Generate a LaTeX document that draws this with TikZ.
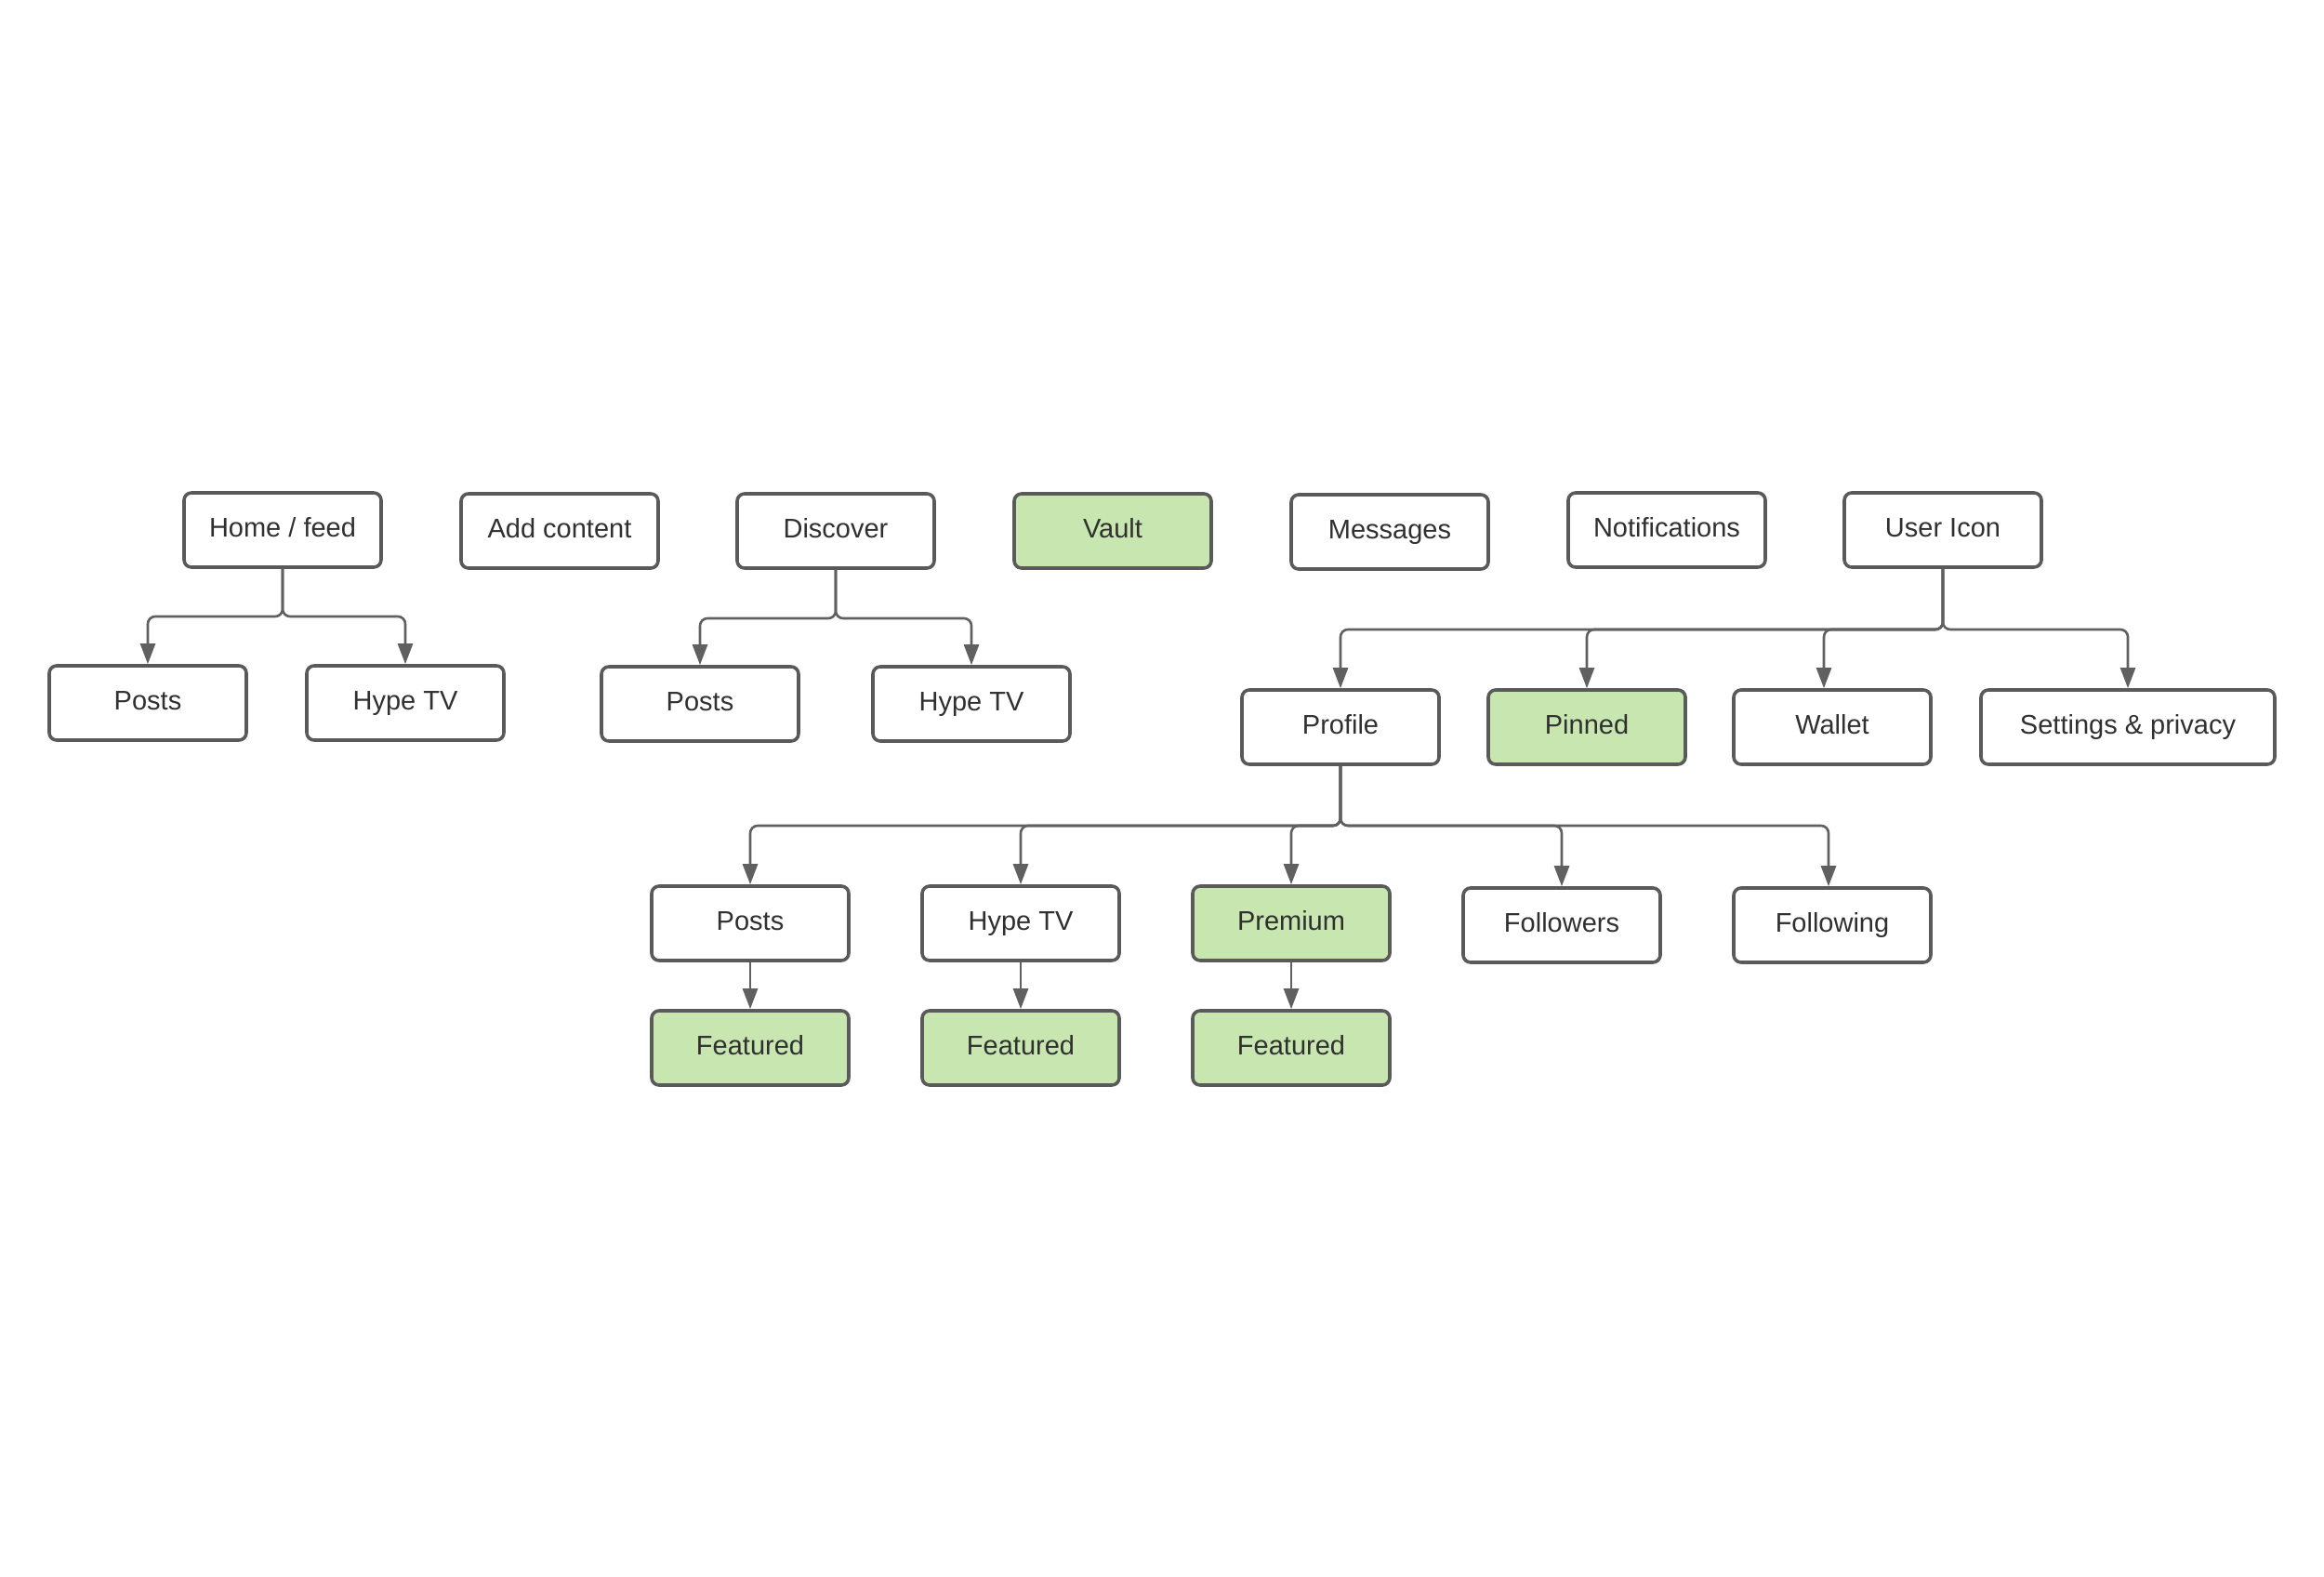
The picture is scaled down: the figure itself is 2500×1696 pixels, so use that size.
\documentclass[tikz,border=0pt]{standalone}
\usepackage{fontspec}
\setmainfont{Liberation Sans}
\usetikzlibrary{arrows.meta}
\definecolor{boxline}{HTML}{5A5A5A}
\definecolor{connline}{HTML}{606060}
\definecolor{greenfill}{HTML}{C7E6B0}
\definecolor{txt}{HTML}{303030}
\begin{document}
\begin{tikzpicture}[x=0.5pt,y=-0.5pt,
  box/.style={draw=boxline, line width=1.8pt, rounded corners=4pt, fill=white,
    minimum width=106pt, minimum height=40pt, inner sep=0pt,
    text height=10.5pt, text depth=3pt, text=txt,
    font=\fontsize{14.5pt}{17pt}\selectfont},
  gbox/.style={box, fill=greenfill},
  conn/.style={draw=connline, line width=1.3pt, rounded corners=4pt,
    -{Triangle[length=11pt,width=8pt]}}]
\useasboundingbox (0,0) rectangle (2500,1696);
\fill[white] (0,0) rectangle (2500,1696);
% top row
\node[box]  (home)  at (304,570)  {Home / feed};
\node[box]  (add)   at (602,571)  {Add content};
\node[box]  (disc)  at (899,571)  {Discover};
\node[gbox] (vault) at (1197,571) {Vault};
\node[box]  (msg)   at (1495,572) {Messages};
\node[box]  (notif) at (1793,570) {Notifications};
\node[box]  (user)  at (2090,570) {User Icon};
% home children
\node[box] (hposts) at (159,756) {Posts};
\node[box] (hhype)  at (436,756) {Hype TV};
% discover children
\node[box] (dposts) at (753,757) {Posts};
\node[box] (dhype)  at (1045,757) {Hype TV};
% user children
\node[box]  (profile)  at (1442,782) {Profile};
\node[gbox] (pinned)   at (1707,782) {Pinned};
\node[box]  (wallet)   at (1971,782) {Wallet};
\node[box, minimum width=158pt] (settings) at (2289,782) {Settings \& privacy};
% profile children
\node[box]  (pposts)   at (807,993)  {Posts};
\node[box]  (phype)    at (1098,993) {Hype TV};
\node[gbox] (premium)  at (1389,993) {Premium};
\node[box]  (followers) at (1680,995) {Followers};
\node[box]  (following) at (1971,995) {Following};
% featured
\node[gbox] (f1) at (807,1127)  {Featured};
\node[gbox] (f2) at (1098,1127) {Featured};
\node[gbox] (f3) at (1389,1127) {Featured};
% arrow target points
\coordinate (walletin) at ([xshift=-4.5pt]wallet.north);
\coordinate (followingin) at ([xshift=-2pt]following.north);
% connectors
\draw[conn] (home.south) -- (home.south |- 0,663) -| (hposts.north);
\draw[conn] (home.south) -- (home.south |- 0,663) -| (hhype.north);
\draw[conn] (disc.south) -- (disc.south |- 0,665) -| (dposts.north);
\draw[conn] (disc.south) -- (disc.south |- 0,665) -| (dhype.north);
\draw[conn] (user.south) -- (user.south |- 0,677) -| (profile.north);
\draw[conn] (user.south) -- (user.south |- 0,677) -| (pinned.north);
\draw[conn] (user.south) -- (user.south |- 0,677) -| (walletin);
\draw[conn] (user.south) -- (user.south |- 0,677) -| (settings.north);
\draw[conn] (profile.south) -- (profile.south |- 0,888) -| (pposts.north);
\draw[conn] (profile.south) -- (profile.south |- 0,888) -| (phype.north);
\draw[conn] (profile.south) -- (profile.south |- 0,888) -| (premium.north);
\draw[conn] (profile.south) -- (profile.south |- 0,888) -| (followers.north);
\draw[conn] (profile.south) -- (profile.south |- 0,888) -| (followingin);
\draw[conn] (pposts.south) -- (f1.north);
\draw[conn] (phype.south) -- (f2.north);
\draw[conn] (premium.south) -- (f3.north);
\end{tikzpicture}
\end{document}
